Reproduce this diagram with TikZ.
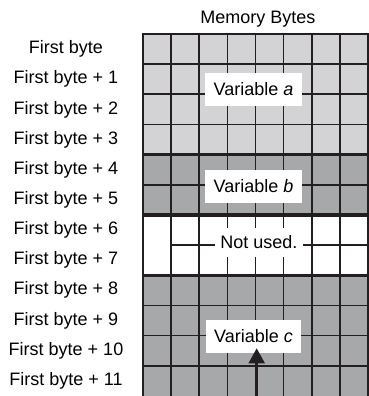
\documentclass[tikz,border=0pt]{standalone}
\usepackage{fontspec}
\setmainfont{Liberation Sans}
\usetikzlibrary{positioning,arrows.meta}
\definecolor{lightcell}{RGB}{211,211,213}
\definecolor{darkcell}{RGB}{167,168,170}
\definecolor{gridline}{RGB}{35,31,32}
\begin{document}
\begin{tikzpicture}[x=1pt, y=1pt, font=\fontsize{18}{21}\selectfont,
    byte/.style={minimum height=30.15pt, inner sep=0pt, outer sep=0pt},
    tag/.style={fill=white, inner xsep=8.5pt, inner ysep=0pt, minimum height=33pt},
    cellline/.style={draw=gridline, line width=1.7pt},
    border/.style={draw=gridline, line width=3.2pt}]
    \useasboundingbox (0,0) rectangle (369,-396);
    \clip (0,0) rectangle (369,-396);

    % Zones des variables
    \fill[lightcell] (143,-34) rectangle (368,-154.6);
    \fill[darkcell] (143,-154.6) rectangle (368,-214.9);
    \fill[white] (143,-214.9) rectangle (368,-275.2);
    \fill[darkcell] (143,-275.2) rectangle (368,-396.8);

    % Lignes de la grille
    \foreach \i in {1,...,7}
        \draw[cellline] (143+28.125*\i,-34) -- (143+28.125*\i,-396.8);
    \foreach \k in {1,2,3,5,9,10,11}
        \draw[cellline] (143,-34-30.15*\k) -- (368,-34-30.15*\k);
    \draw[cellline] (171.125,-245.05) -- (368,-245.05);

    % Bordures
    \draw[border, line width=2.6pt] (143,-34) rectangle (368,-396.8);
    \foreach \k in {4,6,8}
        \draw[border] (143,-34-30.15*\k) -- (368,-34-30.15*\k);

    % Etiquettes
    \node[tag] (vara) at (253.5,-89.4) {Variable \textit{a}};
    \node[tag] (varb) at (253.5,-186.3) {Variable \textit{b}};
    \node[tag, inner xsep=5pt, minimum height=29pt] (unused) at (259,-242.5) {Not used.};
    \node[tag] (varc) at (253.5,-336.3) {Variable \textit{c}};

    % Fleche
    \coordinate (foot) at (256.7,-396);
    \draw[gridline, line width=2pt, -{Triangle[width=16pt,length=15pt]}, shorten >=-4.7pt]
        (foot) -- (foot |- varc.south);

    % Octets
    \node[byte] (b0) at (66,-49.1) {First byte};
    \node[byte, below=0pt of b0] (b1) {First byte + 1};
    \node[byte, below=0pt of b1] (b2) {First byte + 2};
    \node[byte, below=0pt of b2] (b3) {First byte + 3};
    \node[byte, below=0pt of b3] (b4) {First byte + 4};
    \node[byte, below=0pt of b4] (b5) {First byte + 5};
    \node[byte, below=0pt of b5] (b6) {First byte + 6};
    \node[byte, below=0pt of b6] (b7) {First byte + 7};
    \node[byte, below=0pt of b7] (b8) {First byte + 8};
    \node[byte, below=0pt of b8] (b9) {First byte + 9};
    \node[byte, below=0pt of b9] (b10) {First byte + 10};
    \node[byte, below=0pt of b10] (b11) {First byte + 11};

    % Titre
    \node (title) at (258,-18.8) {Memory Bytes};
\end{tikzpicture}
\end{document}
